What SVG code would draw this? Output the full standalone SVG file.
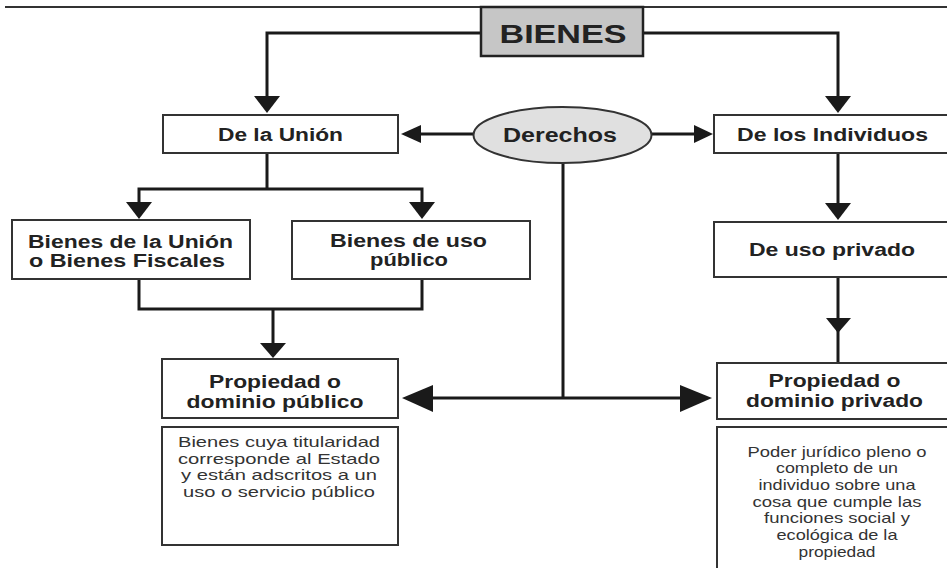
<svg xmlns="http://www.w3.org/2000/svg" width="947" height="568" viewBox="0 0 947 568">
<style>
.box{fill:#fff;stroke:#333;stroke-width:2}
.lbl{font-family:"Liberation Sans",Arial,sans-serif;font-weight:bold;font-size:18px;fill:#222;text-anchor:middle}
.desc{font-family:"Liberation Sans",Arial,sans-serif;font-size:14.5px;fill:#333;text-anchor:middle}
.ln{fill:none;stroke:#1a1a1a;stroke-width:3}
.ah{fill:#1a1a1a}
</style>
<rect width="947" height="568" fill="#fff"/>
<line x1="5" y1="7" x2="947" y2="7" stroke="#333" stroke-width="2"/>

<g id="connectors">
  <path class="ln" d="M481,33 H267 V98"/>
  <polygon class="ah" points="254,96 280,96 267,113"/>
  <path class="ln" d="M643,33 H838 V98"/>
  <polygon class="ah" points="825,96 851,96 838,113"/>
  <path class="ln" d="M474,134 H418"/>
  <polygon class="ah" points="401,134 421,125 421,143"/>
  <path class="ln" d="M651,134 H697"/>
  <polygon class="ah" points="713,134 694,125 694,143"/>
  <path class="ln" d="M267,153 V189 M139,205 V189 H422 V205"/>
  <polygon class="ah" points="126,202 152,202 139,219"/>
  <polygon class="ah" points="409,202 435,202 422,219"/>
  <path class="ln" d="M139,279 V309 H422 V279 M273,309 V345"/>
  <polygon class="ah" points="260,343 286,343 273,358"/>
  <path class="ln" d="M563,163 V398 M430,398 H684"/>
  <polygon class="ah" points="402,398 433,385 433,412"/>
  <polygon class="ah" points="712,398 680,385 680,412"/>
  <path class="ln" d="M838,153 V206"/>
  <polygon class="ah" points="825,203 851,203 838,220"/>
  <path class="ln" d="M838,277 V363"/>
  <polygon class="ah" points="826,318 851,318 838,333"/>
</g>

<g id="bienes">
  <rect x="481" y="7" width="162" height="49" fill="#c6c6c6" stroke="#222" stroke-width="2.5"/>
  <text class="lbl" x="563" y="43" font-size="25" textLength="127" lengthAdjust="spacingAndGlyphs" style="font-size:25px">BIENES</text>
</g>

<g id="derechos">
  <ellipse cx="562.5" cy="135" rx="89" ry="28" fill="#e0e0e0" stroke="#333" stroke-width="2"/>
  <text class="lbl" x="560" y="142" textLength="114" lengthAdjust="spacingAndGlyphs" style="font-size:20px">Derechos</text>
</g>

<g id="de-la-union">
  <rect class="box" x="163" y="115" width="235" height="38"/>
  <text class="lbl" x="280.5" y="141" textLength="125" lengthAdjust="spacingAndGlyphs">De la Unión</text>
</g>

<g id="de-los-individuos">
  <rect class="box" x="714" y="115" width="250" height="38"/>
  <text class="lbl" x="832.5" y="141" textLength="191" lengthAdjust="spacingAndGlyphs">De los Individuos</text>
</g>

<g id="bienes-fiscales">
  <rect class="box" x="12" y="220" width="238" height="59"/>
  <text class="lbl" x="130.5" y="248" textLength="205" lengthAdjust="spacingAndGlyphs">Bienes de la Unión</text>
  <text class="lbl" x="127" y="267" textLength="196" lengthAdjust="spacingAndGlyphs">o Bienes Fiscales</text>
</g>

<g id="bienes-uso-publico">
  <rect class="box" x="292" y="221" width="238" height="58"/>
  <text class="lbl" x="408.5" y="247" textLength="157" lengthAdjust="spacingAndGlyphs">Bienes de uso</text>
  <text class="lbl" x="409" y="266" textLength="78" lengthAdjust="spacingAndGlyphs">público</text>
</g>

<g id="de-uso-privado">
  <rect class="box" x="714" y="222" width="250" height="55"/>
  <text class="lbl" x="832" y="256" textLength="166" lengthAdjust="spacingAndGlyphs">De uso privado</text>
</g>

<g id="propiedad-publico">
  <rect class="box" x="162" y="359" width="236" height="59"/>
  <text class="lbl" x="275" y="388" textLength="132" lengthAdjust="spacingAndGlyphs">Propiedad o</text>
  <text class="lbl" x="275" y="408" textLength="177" lengthAdjust="spacingAndGlyphs">dominio público</text>
</g>

<g id="desc-publico">
  <rect class="box" x="162" y="427" width="236" height="118"/>
  <text class="desc" x="279" y="447" textLength="202" lengthAdjust="spacingAndGlyphs">Bienes cuya titularidad</text>
  <text class="desc" x="279" y="464" textLength="202" lengthAdjust="spacingAndGlyphs">corresponde al Estado</text>
  <text class="desc" x="279" y="480" textLength="196" lengthAdjust="spacingAndGlyphs">y están adscritos a un</text>
  <text class="desc" x="279" y="497" textLength="192" lengthAdjust="spacingAndGlyphs">uso o servicio público</text>
</g>

<g id="propiedad-privado">
  <rect class="box" x="717" y="363" width="250" height="56"/>
  <text class="lbl" x="834.5" y="387" textLength="132" lengthAdjust="spacingAndGlyphs">Propiedad o</text>
  <text class="lbl" x="834.5" y="407" textLength="177" lengthAdjust="spacingAndGlyphs">dominio privado</text>
</g>

<g id="desc-privado">
  <rect class="box" x="717" y="427" width="250" height="160"/>
  <text class="desc" x="837" y="457" textLength="179" lengthAdjust="spacingAndGlyphs">Poder jurídico pleno o</text>
  <text class="desc" x="837" y="473" textLength="122" lengthAdjust="spacingAndGlyphs">completo de un</text>
  <text class="desc" x="837" y="490" textLength="157" lengthAdjust="spacingAndGlyphs">individuo sobre una</text>
  <text class="desc" x="837" y="507" textLength="169" lengthAdjust="spacingAndGlyphs">cosa que cumple las</text>
  <text class="desc" x="837" y="523" textLength="146" lengthAdjust="spacingAndGlyphs">funciones social y</text>
  <text class="desc" x="837" y="540" textLength="121" lengthAdjust="spacingAndGlyphs">ecológica de la</text>
  <text class="desc" x="837" y="557" textLength="77" lengthAdjust="spacingAndGlyphs">propiedad</text>
</g>
</svg>
